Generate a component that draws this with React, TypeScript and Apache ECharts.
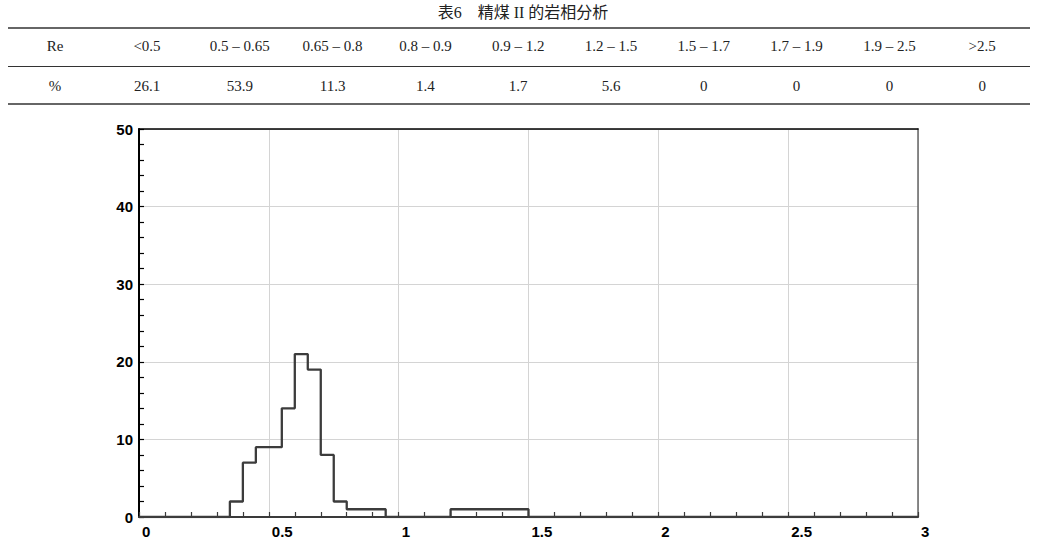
import React, { useEffect, useRef } from "react";
import * as echarts from "echarts";

// ---- Data ----
const titleText = "表6　精煤 II 的岩相分析";
const tableHeadLabel = "Re";
const tableValueLabel = "%";
const tableRanges = ["<0.5", "0.5 – 0.65", "0.65 – 0.8", "0.8 – 0.9", "0.9 – 1.2", "1.2 – 1.5", "1.5 – 1.7", "1.7 – 1.9", "1.9 – 2.5", ">2.5"];
const tablePercents = ["26.1", "53.9", "11.3", "1.4", "1.7", "5.6", "0", "0", "0", "0"];

// histogram: left edges of 0.05-wide bins and their counts (%)
const histBinWidth = 0.05;
const histBinLeft = [0.35, 0.40, 0.45, 0.50, 0.55, 0.60, 0.65, 0.70, 0.75, 0.80, 0.85, 0.90, 1.20, 1.25, 1.30, 1.35, 1.40, 1.45];
const histCounts = [2, 7, 9, 9, 14, 21, 19, 8, 2, 1, 1, 1, 1, 1, 1, 1, 1, 1];

const xMin = 0, xMax = 3, xInterval = 0.5;
const yMin = 0, yMax = 50, yInterval = 10;

function buildStepPoints(): number[][] {
  const pts: number[][] = [[xMin, 0]];
  let prevRight = xMin;
  histBinLeft.forEach((left, i) => {
    const l = Math.round(left * 1000) / 1000;
    if (Math.abs(l - prevRight) > 1e-6) pts.push([prevRight, 0]);
    pts.push([l, histCounts[i]]);
    prevRight = Math.round((l + histBinWidth) * 1000) / 1000;
  });
  pts.push([prevRight, 0]);
  pts.push([xMax, 0]);
  return pts;
}

export default function App() {
  const ref = useRef<HTMLDivElement>(null);
  useEffect(() => {
    document.body.style.margin = "0";
    if (!ref.current) return;
    const chart = echarts.init(ref.current, undefined, { renderer: "svg" });

    const serif = "'Liberation Serif', 'Noto Sans CJK SC', serif";
    const colX0 = 147, colStep = 92.8, labelX = 55;
    const row1Y = 46, row2Y = 86;
    const graphics: any[] = [];
    graphics.push({
      type: "text", left: "center", top: 4,
      style: { text: titleText, font: `16px ${serif}`, fill: "#222" },
    });
    const rules = [{ y: 28, w: 1.6 }, { y: 66.5, w: 1.2 }, { y: 104, w: 1.6 }];
    rules.forEach((r) =>
      graphics.push({
        type: "line",
        shape: { x1: 8, y1: r.y, x2: 1030, y2: r.y },
        style: { stroke: "#333", lineWidth: r.w },
      })
    );
    const cell = (text: string, x: number, y: number) => ({
      type: "text", x, y,
      style: { text, font: `15px ${serif}`, fill: "#222", align: "center", verticalAlign: "middle" },
    });
    graphics.push(cell(tableHeadLabel, labelX, row1Y));
    graphics.push(cell(tableValueLabel, labelX, row2Y));
    tableRanges.forEach((t, i) => graphics.push(cell(t, colX0 + colStep * i, row1Y)));
    tablePercents.forEach((t, i) => graphics.push(cell(t, colX0 + colStep * i, row2Y)));

    const axisFont = { fontFamily: "'Liberation Sans', Arial, sans-serif", fontWeight: "bold" as const, fontSize: 15, color: "#000" };

    chart.setOption({
      animation: false,
      grid: { left: 139, right: 128, top: 129, bottom: 29, containLabel: false },
      graphic: graphics,
      xAxis: [
        {
          type: "value", min: xMin, max: xMax, interval: xInterval, position: "bottom",
          axisLine: { show: true, onZero: false, lineStyle: { color: "#3a3a3a", width: 2 } },
          axisTick: { show: true, inside: true, length: 5, lineStyle: { color: "#3a3a3a", width: 1.2 } },
          minorTick: { show: true, splitNumber: 5, length: 5, lineStyle: { color: "#3a3a3a", width: 1.2 } },
          splitLine: { show: true, lineStyle: { color: "#d4d4d4", width: 1 } },
          axisLabel: { ...axisFont, margin: 7, align: "left", padding: [0, 0, 0, 3], formatter: (v: number) => String(v) },
        },
        {
          type: "value", min: xMin, max: xMax, position: "top",
          axisLine: { show: true, onZero: false, lineStyle: { color: "#000", width: 1.6 } },
          axisTick: { show: false }, axisLabel: { show: false }, splitLine: { show: false },
        },
      ],
      yAxis: [
        {
          type: "value", min: yMin, max: yMax, interval: yInterval, position: "left",
          axisLine: { show: true, onZero: false, lineStyle: { color: "#000", width: 2 } },
          axisTick: { show: true, inside: true, length: 5, lineStyle: { color: "#000", width: 1.2 } },
          minorTick: { show: true, splitNumber: 5, length: 5, lineStyle: { color: "#000", width: 1.2 } },
          splitLine: { show: true, lineStyle: { color: "#d4d4d4", width: 1 } },
          axisLabel: { ...axisFont, margin: 6 },
        },
        {
          type: "value", min: yMin, max: yMax, position: "right",
          axisLine: { show: true, onZero: false, lineStyle: { color: "#666", width: 1.5 } },
          axisTick: { show: false }, axisLabel: { show: false }, splitLine: { show: false },
        },
      ],
      series: [
        {
          type: "line",
          xAxisIndex: 0, yAxisIndex: 0,
          step: "end",
          symbol: "none",
          data: buildStepPoints(),
          lineStyle: { color: "#3c3c3c", width: 2.3 },
          z: 5,
        },
      ],
    });
    return () => chart.dispose();
  }, []);
  return <div ref={ref} style={{ width: 1046, height: 546 }} />;
}
